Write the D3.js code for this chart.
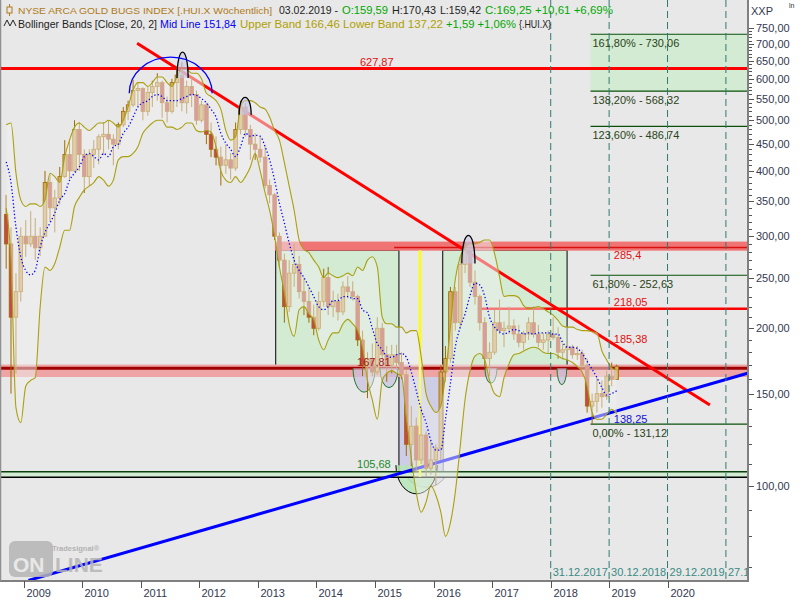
<!DOCTYPE html>
<html><head><meta charset="utf-8">
<script src="https://cdn.jsdelivr.net/npm/d3@7"></script>
<style>body{margin:0;background:#fff}svg{display:block;font-family:"Liberation Sans",Arial,sans-serif}</style>
</head><body><svg id="c" width="800" height="600"></svg>
<script>
// ---------- DATA ----------
const firstMonth = "2008-09-01", afterLastMonth = "2019-03-01";
const open  = [330,290,210,235,300,290,300,285,300,380,340,355,390,430,400,480,430,390,430,440,465,470,460,450,490,520,535,570,575,520,565,580,590,540,520,590,610,540,580,560,500,535,470,440,425,410,420,405,480,530,480,450,440,425,375,360,300,270,220,255,265,235,225,210,200,225,250,220,225,215,240,235,230,190,170,175,165,200,178,170,178,172,163,120,130,112,125,108,112,118,165,175,235,205,265,282,245,230,205,175,180,205,198,200,202,195,188,195,205,195,188,190,195,192,180,182,184,178,179,170,142,145,150,148,162,159.59];
const high  = [360,312,255,312,322,335,325,312,400,395,368,407,458,460,500,495,440,440,458,470,495,500,470,495,530,545,597,592,578,580,595,615,595,555,600,635,645,595,605,570,545,540,495,466,445,450,433,495,545,540,490,472,466,445,385,363,305,278,270,290,275,250,240,222,235,260,262,236,233,246,252,246,232,198,180,187,210,205,185,186,186,180,166,142,135,142,127,122,120,170,185,240,240,274,291,288,258,232,210,188,217,227,206,220,208,203,198,210,220,203,196,198,210,201,187,188,186,185,182,175,150,161,159,166,172,170.43];
const low   = [260,150,164,225,274,286,270,275,300,320,305,345,388,385,398,400,363,375,405,412,430,440,410,440,485,500,530,530,500,510,530,545,505,495,515,530,520,515,530,490,495,450,425,410,375,395,385,400,470,465,420,420,415,370,347,295,262,205,215,240,228,212,205,194,198,220,212,210,207,212,228,226,185,162,147,162,163,170,158,164,168,160,114,109,106,110,104,105,100,112,158,172,198,200,255,240,222,198,168,162,178,195,184,195,190,184,182,190,192,184,182,179,190,175,175,177,175,174,168,138,131,138,141,146,155,159.42];
const close = [290,210,235,300,290,300,285,300,380,340,355,390,430,400,480,430,390,430,440,465,470,460,450,490,520,535,570,575,520,565,580,590,540,520,590,610,540,580,560,500,535,470,440,425,410,420,405,480,530,480,450,440,425,375,360,300,270,220,255,265,235,225,210,200,225,250,220,225,215,240,235,230,190,170,175,165,200,178,170,178,172,163,120,130,112,125,108,112,118,165,175,235,205,265,282,245,230,205,175,180,205,198,200,202,195,188,195,205,195,188,190,195,192,180,182,184,178,179,170,142,145,150,148,162,159.6,169.25];
const bbUpper = [490,494,396,352,342,346,346,342,352,396,390,380,426,458,485,494,485,478,485,494,494,500,494,485,500,530,571,590,590,580,590,605,605,590,580,605,625,625,615,615,600,563,555,545,525,478,458,465,530,545,545,540,530,525,507,478,458,415,374,336,295,283,279,270,262,250,255,252,250,252,255,252,262,258,270,274,262,210,204,204,201,201,196,198,198,177,150,142,138,142,163,201,248,274,285,290,290,292,295,295,278,251,230,231,231,229,221,218,219,220,218,215,212,207,202,201,201,199,198,198,197,196,181,174,168,166.46];
const bbMid   = [416,380,312,274,258,253,258,286,305,318,332,352,362,384,396,407,426,432,426,420,432,426,445,450,472,485,507,530,540,545,555,560,555,545,545,545,550,555,560,558,550,540,525,507,472,452,440,426,445,472,466,468,466,445,420,384,347,318,291,270,258,250,240,230,220,217,220,226,226,230,230,228,228,217,214,200,187,182,177,176,178,179,176,165,152,140,132,122,117,117,134,157,184,201,213,231,244,242,230,210,201,197,195,197,199,198,195,196,195,196,196,196,195,195,188,184,184,183,179,173,167,161,154,149,150,151.84];
const bbLower = [340,270,141,132,155,159,161,220,262,258,266,286,308,308,342,356,368,374,380,390,384,374,384,420,426,426,432,445,472,485,494,500,500,485,485,480,485,494,494,478,475,478,475,445,400,384,380,390,380,390,407,432,400,363,336,300,262,234,204,193,217,220,213,208,190,182,190,196,196,204,208,204,198,184,159,146,134,159,164,166,164,162,135,113,97,89,93,100,96,89,80,85,97,119,146,166,177,179,174,159,150,148,161,171,178,179,181,183,184,183,180,179,179,177,175,174,172,169,165,155,138,134,134,137,140,137.22];

const yMajor = [100,150,200,250,300,350,400,450,500,550,600,650,700,750];
const yearTicks = ["2009","2010","2011","2012","2013","2014","2015","2016","2017","2018","2019","2020"];
const cycleDates = ["2017-12-31","2018-12-30","2019-12-29","2020-12-27"];
const cycleLabels = ["31.12.2017","30.12.2018","29.12.2019","27.12.2020"];

// levels and annotations (date, price)
const resistance = 627.87, zoneHigh = 285.4, zoneMid = 218.05, zoneLow = 167.81, support = 105.68;
const fibLevels = [730.06, 568.32, 486.74, 252.63, 131.12];
const fibLabels = ["161,80% - 730,06","138,20% - 568,32","123,60% - 486,74","61,80% - 252,63","0,00% - 131,12"];
const downTrend = [["2010-12-10",702],["2020-09-18",142.7]];
const upTrend   = [["2009-02-01",65.9],["2021-05-11",164.1]];
const greenBoxes = [["2013-04-22","2015-05-30",282,167.81],["2016-02-27","2018-04-12",282,167.81]];
const purpleBox = ["2015-05-30","2016-03-01",167.81,104.5];
const peakArches = [["2011-08-16","2011-10-24",602,675],["2012-09-06","2012-11-20",512,553],["2016-06-25","2016-09-15",266,301]];
const cups = [["2014-08-17","2015-01-01",151],["2015-02-01","2015-05-24",154],["2016-11-16","2017-01-30",157],["2018-02-08","2018-04-10",156]];
const topArc = ["2010-10-22","2012-03-22",563,660];
const yellowLine = ["2015-10-08",282,104];

// ---------- SCALES ----------
const P = d3.timeParse("%Y-%m-%d");
const months = d3.timeMonth.range(P(firstMonth), P(afterLastMonth));
const mx = months.map(m => d3.timeDay.offset(m, 14));
const x = d3.scaleTime().domain([new Date(2009,0,1), new Date(2020,0,1)]).range([23.5, 668]);
const y = d3.scaleLog().domain([100,200]).range([485.7,328.3]);
const PR = 748, PB = 581;
const fmt = v => d3.format(".2f")(v).replace(".", ",");

const svg = d3.select("#c");
svg.append("rect").attr("width",800).attr("height",600).attr("fill","#fff");
svg.append("defs").append("clipPath").attr("id","clip").append("rect").attr("x",0).attr("y",0).attr("width",PR).attr("height",PB);
const g = svg.append("g").attr("clip-path","url(#clip)");
g.append("rect").attr("width",PR).attr("height",PB).attr("fill","#e8e8e8");

const fibX0 = x(P("2018-09-05"));
g.append("rect").attr("x",fibX0).attr("y",y(fibLevels[0])).attr("width",PR-fibX0).attr("height",y(fibLevels[1])-y(fibLevels[0])).attr("fill","#d3ead3");
greenBoxes.forEach(b=>{
  g.append("rect").attr("x",x(P(b[0]))).attr("y",y(b[2])).attr("width",x(P(b[1]))-x(P(b[0]))).attr("height",y(b[3])-y(b[2]))
   .attr("fill","#d3ead3").attr("stroke","#000").attr("stroke-width",1);
});
{
  const x0=x(P(purpleBox[0])), x1=x(P(purpleBox[1])), y0=y(purpleBox[2]), y1=y(purpleBox[3]);
  g.append("rect").attr("x",x0).attr("y",y0).attr("width",x1-x0).attr("height",y1-y0).attr("fill","#cdcde6");
  g.append("line").attr("x1",x0).attr("x2",x0).attr("y1",y0).attr("y2",y1).attr("stroke","#000");
  g.append("line").attr("x1",x1).attr("x2",x1).attr("y1",y0).attr("y2",y1).attr("stroke","#777");
  const yb = y(support);
  g.append("path").attr("d",`M${x0+6},${yb} A${(x1-x0+2)/2},24 0 0 0 ${x1+4},${yb}`).attr("fill","#cdcde6").attr("fill-opacity",0.6).attr("stroke","#777");
  g.append("path").attr("d",`M${x0-3},${yb-8} A${(x1-x0-4)/2},28 0 0 0 ${x1-6},${yb-8}`).attr("fill","#b4e6b4").attr("fill-opacity",0.8).attr("stroke","#000");
}
g.append("rect").attr("x",x(P("2013-04-17"))).attr("y",y(293)).attr("width",PR).attr("height",y(281.5)-y(293)).attr("fill","#f07474");
g.append("rect").attr("x",0).attr("y",y(170.5)).attr("width",PR).attr("height",y(161.4)-y(170.5)).attr("fill","#eea4a4");
g.append("rect").attr("x",0).attr("y",y(106.3)).attr("width",PR).attr("height",y(103.8)-y(106.3)).attr("fill","#d3ead3");
g.append("line").attr("x1",0).attr("x2",PR).attr("y1",y(106.3)).attr("y2",y(106.3)).attr("stroke","#0a400a").attr("stroke-width",1.5);
g.append("line").attr("x1",0).attr("x2",PR).attr("y1",y(103.8)).attr("y2",y(103.8)).attr("stroke","#000").attr("stroke-width",1.5);
const hl=(v,x0,col,w)=>g.append("line").attr("x1",x0).attr("x2",PR).attr("y1",y(v)).attr("y2",y(v)).attr("stroke",col).attr("stroke-width",w);
hl(resistance,0,"#ff0000",3);
hl(zoneHigh,x(P("2015-04-30")),"#d81010",1.5);
hl(zoneMid,x(P("2016-10-03")),"#ff0000",2.5);
hl(zoneLow,0,"#a00000",3);
fibLevels.forEach(v=>hl(v,fibX0,"#0a500a",1.2));
cups.forEach(c=>{
  const x0=x(P(c[0])), x1=x(P(c[1])), yt=y(zoneLow), yb=y(c[2]);
  g.append("path").attr("d",`M${x0},${yt} A${(x1-x0)/2},${yb-yt} 0 0 0 ${x1},${yt}`).attr("fill","#c8c0e0").attr("fill-opacity",0.7).attr("stroke","#1d7a2a").attr("stroke-width",1);
});
g.append("line").attr("x1",x(P(yellowLine[0]))).attr("x2",x(P(yellowLine[0]))).attr("y1",y(yellowLine[1])).attr("y2",y(yellowLine[2])).attr("stroke","#ffff00").attr("stroke-width",2.5);
const tl=(t,col)=>g.append("line").attr("x1",x(P(t[0][0]))).attr("y1",y(t[0][1])).attr("x2",x(P(t[1][0]))).attr("y2",y(t[1][1])).attr("stroke",col).attr("stroke-width",3);
tl(downTrend,"#ff0000");
tl(upTrend,"#0000ff");

// candles
const cw = 3.6;
const cg = g.append("g");
months.forEach((m,i)=>{
  const cx = x(mx[i]);
  cg.append("line").attr("x1",cx).attr("x2",cx).attr("y1",y(high[i])).attr("y2",y(low[i])).attr("stroke","#a06a00").attr("stroke-width",1);
  const up = close[i]>=open[i];
  const yt = y(Math.max(open[i],close[i])), yb = y(Math.min(open[i],close[i]));
  cg.append("rect").attr("x",cx-cw/2).attr("y",yt).attr("width",cw).attr("height",Math.max(1,yb-yt))
    .attr("fill",up?"#d2aa62":"#c84848").attr("stroke","#a06a00").attr("stroke-width",0.8);
});
// band fill
const idx = d3.range(months.length);
const area = d3.area().x(i=>x(mx[i])).y0(i=>y(bbLower[i])).y1(i=>y(bbUpper[i])).curve(d3.curveMonotoneX);
g.append("path").attr("d",area(idx)).attr("fill","#f0f0f0").attr("fill-opacity",0.5);
const ln = arr => d3.line().x(i=>x(mx[i])).y(i=>y(arr[i])).curve(d3.curveMonotoneX)(idx);
g.append("path").attr("d",ln(bbUpper)).attr("fill","none").attr("stroke","#aaa010").attr("stroke-width",1.1);
g.append("path").attr("d",ln(bbLower)).attr("fill","none").attr("stroke","#aaa010").attr("stroke-width",1.1);
g.append("path").attr("d",ln(bbMid)).attr("fill","none").attr("stroke","#0000ff").attr("stroke-width",1.3).attr("stroke-dasharray","1.3,2.2");

cycleDates.forEach((d,i)=>{
  const cx = x(P(d));
  g.append("line").attr("x1",cx).attr("x2",cx).attr("y1",0).attr("y2",PB).attr("stroke","#2f7a70").attr("stroke-width",1).attr("stroke-dasharray","7,4");
  g.append("text").attr("x",cx+2).attr("y",576).attr("font-size",11).attr("fill","#3a8a84").text(cycleLabels[i]);
});

peakArches.forEach(a=>{
  const x0=x(P(a[0])), x1=x(P(a[1])), yb=y(a[2]), ya=y(a[3]);
  const yc=(ya-0.25*yb)/0.75;
  g.append("path").attr("d",`M${x0},${yb} C${x0},${yc} ${x1},${yc} ${x1},${yb}`).attr("fill","#c8c8ea").attr("fill-opacity",0.6).attr("stroke","#000").attr("stroke-width",1.3);
});
{
  const x0=x(P(topArc[0])), x1=x(P(topArc[1])), yb=y(topArc[2]), ya=y(topArc[3]);
  g.append("path").attr("d",`M${x0},${yb} A${(x1-x0)/2},${yb-ya} 0 0 1 ${x1},${yb}`).attr("fill","none").attr("stroke","#0000ff").attr("stroke-width",1.3);
}

const lab=(t,d,v,dy,col)=>g.append("text").attr("x",x(P(d))).attr("y",y(v)+dy).attr("font-size",11).attr("fill",col).text(t);
lab("627,87","2014-09-29",resistance,-3,"#e01010");
lab("285,4","2019-01-28",zoneHigh,11.5,"#e01010");
lab("218,05","2019-01-28",zoneMid,-2.5,"#e01010");
lab("185,38","2019-01-28",185.38,-2.5,"#e01010");
lab("138,25","2019-01-28",131.12,-1,"#1010e0");
lab("167,81","2014-09-11",zoneLow,-2,"#a02020");
lab("105,68","2014-09-11",support,-5,"#1a8a2a");
fibLevels.forEach((v,i)=>lab(fibLabels[i],"2018-09-17",v,12.5,"#2a4418"));

// watermark
const wm = svg.append("g").attr("opacity",0.85);
wm.append("rect").attr("x",9).attr("y",541).attr("width",44).attr("height",36).attr("rx",6).attr("fill","#b5b5b5");
wm.append("text").attr("x",13).attr("y",572).attr("font-size",21).attr("font-weight","bold").attr("fill","#e8e8e8").text("ON");
wm.append("text").attr("x",55).attr("y",572).attr("font-size",21).attr("font-weight","bold").attr("fill","#b5b5b5").text("LINE");
wm.append("text").attr("x",52).attr("y",551).attr("font-size",7.5).attr("font-weight","bold").attr("fill","#aaa").text("Tradesignal®");

svg.append("line").attr("x1",PR).attr("x2",PR).attr("y1",0).attr("y2",PB+1).attr("stroke","#808080").attr("stroke-width",2);
svg.append("line").attr("x1",0).attr("x2",PR).attr("y1",PB).attr("y2",PB).attr("stroke","#808080").attr("stroke-width",2);
svg.append("line").attr("x1",0.5).attr("x2",0.5).attr("y1",0).attr("y2",PB).attr("stroke","#909090").attr("stroke-width",1.5);

const yMinor = d3.range(70,750,10).filter(v=>v%50!==0);
yMinor.forEach(v=>svg.append("line").attr("x1",PR+1).attr("x2",PR+4).attr("y1",Math.round(y(v))+0.5).attr("y2",Math.round(y(v))+0.5).attr("stroke","#555"));
yMajor.forEach(v=>{
  svg.append("line").attr("x1",PR+1).attr("x2",PR+6).attr("y1",Math.round(y(v))+0.5).attr("y2",Math.round(y(v))+0.5).attr("stroke","#555");
  svg.append("text").attr("x",756).attr("y",y(v)+4).attr("font-size",11).attr("fill","#333850").text(fmt(v));
});
svg.append("text").attr("x",751).attr("y",15).attr("font-size",11).attr("fill","#333850").text("XXP");
svg.append("text").attr("x",789).attr("y",8).attr("font-size",7).attr("fill","#333").text("ln");

yearTicks.forEach(t=>{
  const tx = Math.round(x(P(t+"-01-01")))+0.5;
  svg.append("line").attr("x1",tx).attr("x2",tx).attr("y1",PB).attr("y2",PB+7).attr("stroke","#555");
  svg.append("text").attr("x",tx+2).attr("y",597).attr("font-size",11).attr("fill","#333850").text(t);
});

// legend (text, x, width, colour, font size)
const lg = svg.append("g");
const row1 = [["NYSE ARCA GOLD BUGS INDEX [.HUI.X  Wöchentlich]",18,254,"#b07a18",9.6],["03.02.2019 -",279,59,"#222",11],["O:159,59",342,46,"#00a800",11],["H:170,43",392,44,"#222",11],["L:159,42",440,41,"#222",11],["C:169,25 +10,61 +6,69%",485,128,"#00a800",11]];
const row2 = [["Bollinger Bands [Close, 20, 2]",18,139,"#222",10.4],["Mid Line 151,84",160,76,"#0000ff",11],["Upper Band 166,46 Lower Band 137,22",240,203,"#b0a000",11],["+1,59 +1,06%",446,70,"#00a800",11],["{.HUI.X}",519,32,"#222",11]];
row1.forEach(r=>lg.append("text").attr("x",r[1]).attr("y",14).attr("font-size",r[4]).attr("fill",r[3]).attr("textLength",r[2]).attr("lengthAdjust","spacingAndGlyphs").text(r[0]));
row2.forEach(r=>lg.append("text").attr("x",r[1]).attr("y",28).attr("font-size",r[4]).attr("fill",r[3]).attr("textLength",r[2]).attr("lengthAdjust","spacingAndGlyphs").text(r[0]));
lg.append("line").attr("x1",9.5).attr("x2",9.5).attr("y1",4).attr("y2",16).attr("stroke","#b07a18");
lg.append("rect").attr("x",7).attr("y",7).attr("width",5).attr("height",6).attr("fill","#e8e8e8").attr("stroke","#b07a18");
lg.append("path").attr("d","M4,26 L7,20 L10,26 L13,20 L16,26").attr("fill","none").attr("stroke","#222").attr("stroke-width",1);
</script></body></html>
